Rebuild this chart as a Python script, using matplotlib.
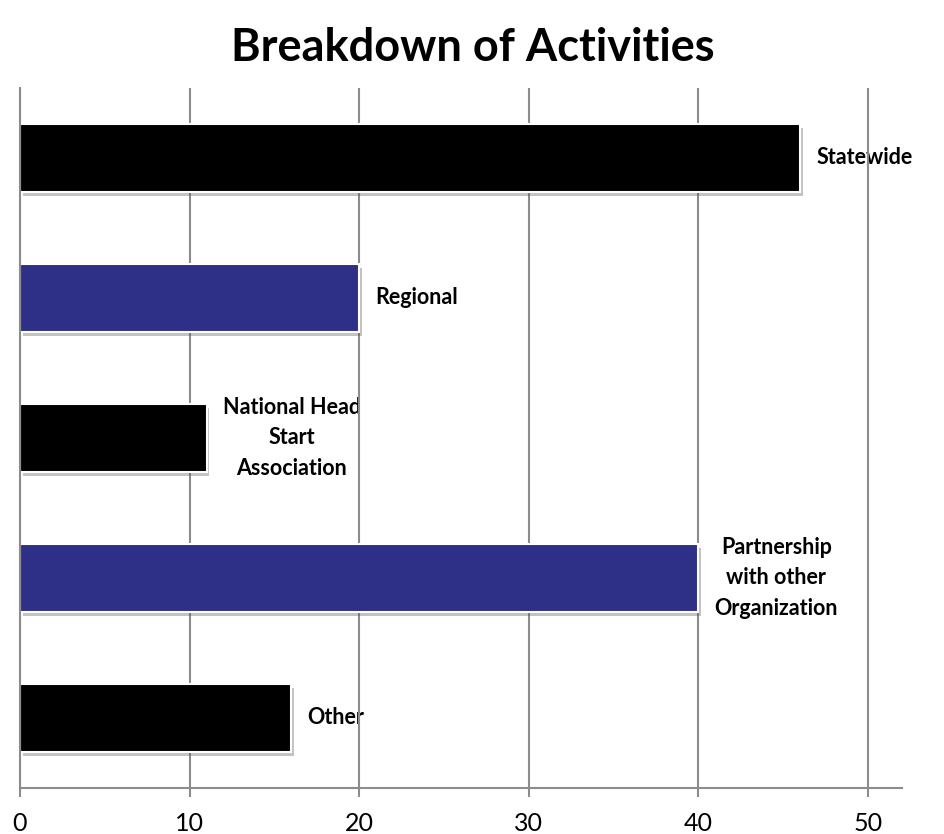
import numpy as np
import matplotlib
matplotlib.use('Agg')
import matplotlib.pyplot as plt
import matplotlib.patheffects as pe

plt.rcParams['font.family'] = ['Lato', 'DejaVu Sans']

# Datos
categorias = ['Statewide', 'Regional', 'National Head\nStart\nAssociation',
              'Partnership\nwith other\nOrganization', 'Other']
valores = [46, 20, 11, 40, 16]
colores = ['#000000', '#2E3087', '#000000', '#2E3087', '#000000']
ticks_x = [0, 10, 20, 30, 40, 50]

fig = plt.figure(figsize=(9.45, 8.34), dpi=100)
ax = fig.add_axes([20/945, (834-788)/834, (902-20)/945, 700/834])

pos = np.arange(len(valores))[::-1]
barras = ax.barh(pos, valores, height=0.49, color=colores, edgecolor='white',
                 linewidth=1.5, zorder=2)
for b in barras:
    b.set_path_effects([pe.SimplePatchShadow(offset=(2, -3), alpha=0.35, shadow_rgbFace='#555555'),
                        pe.Normal()])

# Etiquetas junto a cada barra
for p, v, c in zip(pos, valores, categorias):
    ax.text(v + 0.95, p, c, ha='left', va='center', multialignment='center',
            fontsize=15.5, fontweight='bold', zorder=0.2, linespacing=1.55)

ax.set_xlim(0, 52)
ax.set_ylim(-0.5, 4.5)
ax.set_xticks(ticks_x)
ax.set_yticks([])
ax.set_axisbelow(True)
ax.grid(axis='x', color='#8c8c8c', linewidth=1.5)
for s in ['top', 'right']:
    ax.spines[s].set_visible(False)
for s in ['left', 'bottom']:
    ax.spines[s].set_color('#8c8c8c')
    ax.spines[s].set_linewidth(1.5)
ax.tick_params(axis='x', direction='out', length=6.5, width=1.5, color='#8c8c8c',
               labelsize=18, pad=11)

fig.suptitle('Breakdown of Activities', fontsize=32.5, fontweight='bold', y=0.968)

fig.savefig('out.png', dpi=100)
